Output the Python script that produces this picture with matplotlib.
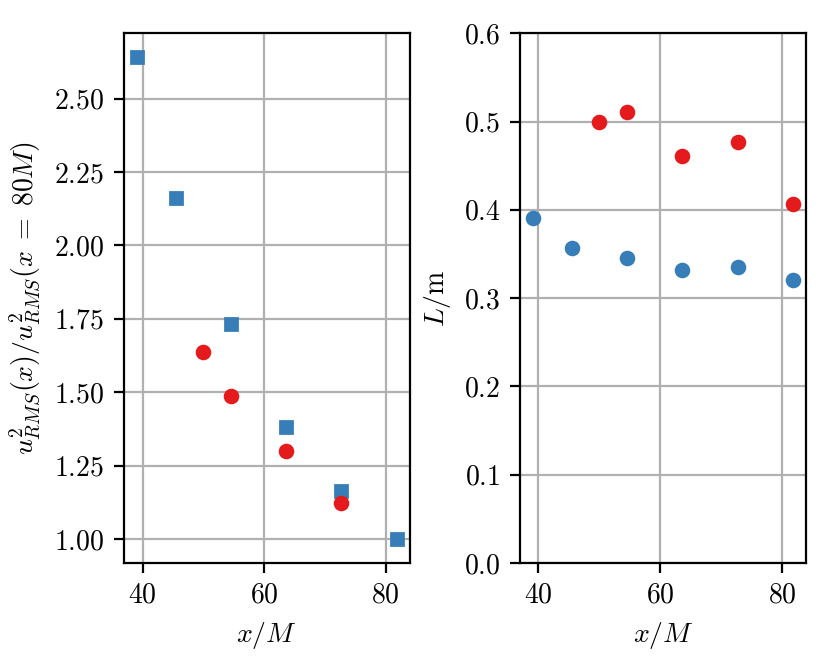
import matplotlib
matplotlib.use("Agg")
import matplotlib.pyplot as plt

plt.rcParams['font.family'] = 'serif'
plt.rcParams['font.serif'] = ['cmr10', 'DejaVu Serif']
plt.rcParams['mathtext.fontset'] = 'cm'
plt.rcParams['axes.formatter.use_mathtext'] = True
plt.rcParams['font.size'] = 10
plt.rcParams['axes.unicode_minus'] = False

blue = '#377eb8'
red = '#e41a1c'

# left panel: normalised RMS velocity squared
x_sq = [39.0, 45.4, 54.5, 63.5, 72.6, 81.8]
u2_sq = [2.641, 2.162, 1.733, 1.380, 1.163, 1.000]
x_ci = [49.9, 54.5, 63.5, 72.6]
u2_ci = [1.638, 1.488, 1.299, 1.123]
left_yticks = [1.00, 1.25, 1.50, 1.75, 2.00, 2.25, 2.50]

# right panel: length scale L
x_blue = [39.1, 45.5, 54.6, 63.6, 72.7, 81.8]
L_blue = [0.391, 0.357, 0.346, 0.332, 0.335, 0.321]
x_red = [50.0, 54.6, 63.6, 72.7, 81.8]
L_red = [0.500, 0.511, 0.461, 0.477, 0.407]

fig, (ax1, ax2) = plt.subplots(1, 2, figsize=(4.15, 3.32), dpi=200)
fig.subplots_adjust(left=0.149, right=0.971, bottom=0.152, top=0.950, wspace=0.385)

ms = 4.6
ax1.plot(x_sq, u2_sq, 's', color=blue, ms=ms, zorder=3)
ax1.plot(x_ci, u2_ci, 'o', color=red, ms=ms, zorder=3)
ax1.set_yticks(left_yticks)
ax1.set_xticks([40, 60, 80])
ax1.set_xlabel('$x/M$')
ax1.set_ylabel(r'$u^2_{RMS}(x)/u^2_{RMS}(x\;=\;80M)$')
ax1.grid(True)
ax1.set_axisbelow(True)

ax2.plot(x_blue, L_blue, 'o', color=blue, ms=ms, zorder=3)
ax2.plot(x_red, L_red, 'o', color=red, ms=ms, zorder=3)
ax2.set_ylim(0, 0.6)
ax2.set_xticks([40, 60, 80])
ax2.set_xlabel('$x/M$')
ax2.set_ylabel(r'$L/\mathrm{m}$')
ax2.grid(True)
ax2.set_axisbelow(True)

fig.savefig('out.png', dpi=200)
